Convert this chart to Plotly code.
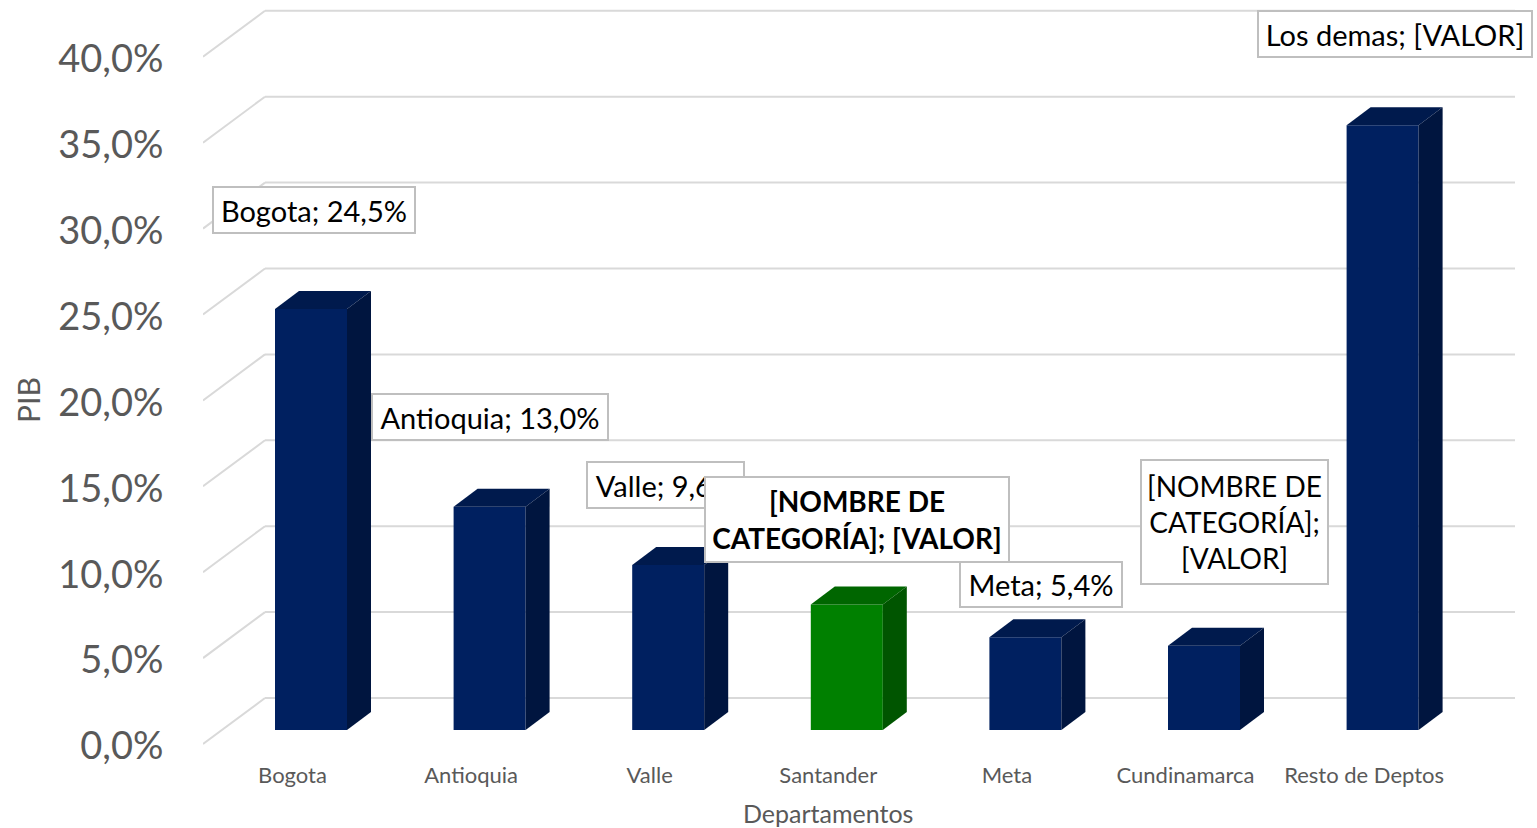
import plotly.graph_objects as go

categories = ["Bogota", "Antioquia", "Valle", "Santander", "Meta", "Cundinamarca", "Resto de Deptos"]
values = [24.5, 13.0, 9.6, 7.3, 5.4, 4.9, 35.2]
y_ticks = [0, 5, 10, 15, 20, 25, 30, 35, 40]
y_tick_labels = ["0,0%", "5,0%", "10,0%", "15,0%", "20,0%", "25,0%", "30,0%", "35,0%", "40,0%"]

WIDTH, HEIGHT = 1537, 828
PX_PER_PCT = 17.18
PX_PER_CAT = 178.6
PLOT_L, PLOT_B = 203, 746
X0_PX = 292.5

NAVY = ("#002060", "#001a4d", "#00153f")
GREEN = ("#008000", "#006600", "#005500")
HIGHLIGHT = "Santander"

def dy(px):
    return px / PX_PER_PCT

def dx(px):
    return px / PX_PER_CAT

BAR_OFFSET = dx(18.5)
BAR_W = dx(72)
BAR_BASE = dy(16)
GRID_BASE = dy(2)
DEPTH_X, DEPTH_Y = dx(24), dy(18)
WALL_X, WALL_Y = dx(62), dy(46)
xmin = (PLOT_L - X0_PX) / PX_PER_CAT
xmax = (WIDTH - X0_PX) / PX_PER_CAT
wall_right = (1515 - X0_PX) / PX_PER_CAT

fig = go.Figure()

shapes = []
grid = dict(color="#d9d9d9", width=2)
for t in y_ticks:
    g = t + GRID_BASE
    shapes.append(dict(type="line", xref="x", yref="y", layer="below", line=grid,
                       x0=xmin, y0=g, x1=xmin + WALL_X, y1=g + WALL_Y))
    shapes.append(dict(type="line", xref="x", yref="y", layer="below", line=grid,
                       x0=xmin + WALL_X, y0=g + WALL_Y, x1=wall_right, y1=g + WALL_Y))

colors = [GREEN if c == HIGHLIGHT else NAVY for c in categories]
fig.add_trace(go.Bar(
    x=[i + BAR_OFFSET for i in range(len(categories))],
    y=values, base=BAR_BASE, width=BAR_W,
    marker=dict(color=[c[0] for c in colors], line=dict(width=0)),
    hoverinfo="skip", showlegend=False,
))

for i, (v, c) in enumerate(zip(values, colors)):
    left = i + BAR_OFFSET - BAR_W / 2
    right = left + BAR_W
    low, top = BAR_BASE, BAR_BASE + v
    fig.add_trace(go.Scatter(
        x=[left, right, right + DEPTH_X, left + DEPTH_X, left],
        y=[top, top, top + DEPTH_Y, top + DEPTH_Y, top],
        fill="toself", fillcolor=c[1], mode="lines", line=dict(width=0),
        hoverinfo="skip", showlegend=False))
    fig.add_trace(go.Scatter(
        x=[right, right + DEPTH_X, right + DEPTH_X, right, right],
        y=[low, low + DEPTH_Y, top + DEPTH_Y, top, low],
        fill="toself", fillcolor=c[2], mode="lines", line=dict(width=0),
        hoverinfo="skip", showlegend=False))

def paper_x(px):
    return (px - PLOT_L) / (WIDTH - PLOT_L)

def paper_y(px):
    return (PLOT_B - px) / PLOT_B

def box(text, l, t, r, b, bold=False, size=29):
    return dict(
        text=f"<b>{text}</b>" if bold else text,
        xref="paper", yref="paper", xanchor="center", yanchor="middle",
        x=paper_x((l + r) / 2), y=paper_y((t + b) / 2),
        width=r - l - 3, height=b - t - 3,
        showarrow=False, align="center", valign="middle",
        bgcolor="white", bordercolor="#bfbfbf", borderwidth=2, borderpad=0,
        font=dict(family="Lato", size=size, color="#000000"),
    )

annotations = [
    box("Bogota; 24,5%", 212, 186, 415, 233),
    box("Antioquia; 13,0%", 371, 393, 608, 440),
    box("Valle; 9,6%", 586, 462, 744, 509),
    box("Meta; 5,4%", 959, 561, 1122, 607),
    box("[NOMBRE DE<br>CATEGORÍA]; [VALOR]", 704, 476, 1009, 562, bold=True, size=28),
    box("[NOMBRE DE<br>CATEGORÍA];<br>[VALOR]", 1140, 459, 1328, 584, size=28),
    box("Los demas; [VALOR]", 1257, 11, 1532, 58),
    dict(text="Departamentos", xref="paper", yref="paper", x=paper_x(828), y=paper_y(813),
         xanchor="center", yanchor="middle", showarrow=False,
         font=dict(family="Lato", size=25, color="#595959")),
    dict(text="PIB", xref="paper", yref="paper", x=paper_x(28), y=paper_y(400),
         xanchor="center", yanchor="middle", showarrow=False, textangle=-90,
         font=dict(family="Lato", size=30, color="#595959")),
]

fig.update_layout(
    width=WIDTH, height=HEIGHT, autosize=False,
    margin=dict(l=PLOT_L, r=0, t=0, b=HEIGHT - PLOT_B, pad=0),
    paper_bgcolor="white", plot_bgcolor="rgba(0,0,0,0)",
    showlegend=False, shapes=shapes, annotations=annotations,
    font=dict(family="Lato", color="#595959"),
    xaxis=dict(range=[xmin, xmax], tickmode="array", tickvals=list(range(len(categories))),
               ticktext=categories, showgrid=False, zeroline=False, showline=False,
               ticks="outside", ticklen=10, tickcolor="rgba(0,0,0,0)",
               tickfont=dict(size=22, color="#595959")),
    yaxis=dict(range=[0, PLOT_B / PX_PER_PCT], tickmode="array", tickvals=y_ticks,
               ticktext=y_tick_labels, showgrid=False, zeroline=False, showline=False,
               ticks="outside", ticklen=31, tickcolor="rgba(0,0,0,0)",
               tickfont=dict(size=38, color="#595959")),
)

fig.write_html("out.html", config={"displayModeBar": False},
               post_script="document.body.style.margin='0';document.body.style.overflow='hidden';")
